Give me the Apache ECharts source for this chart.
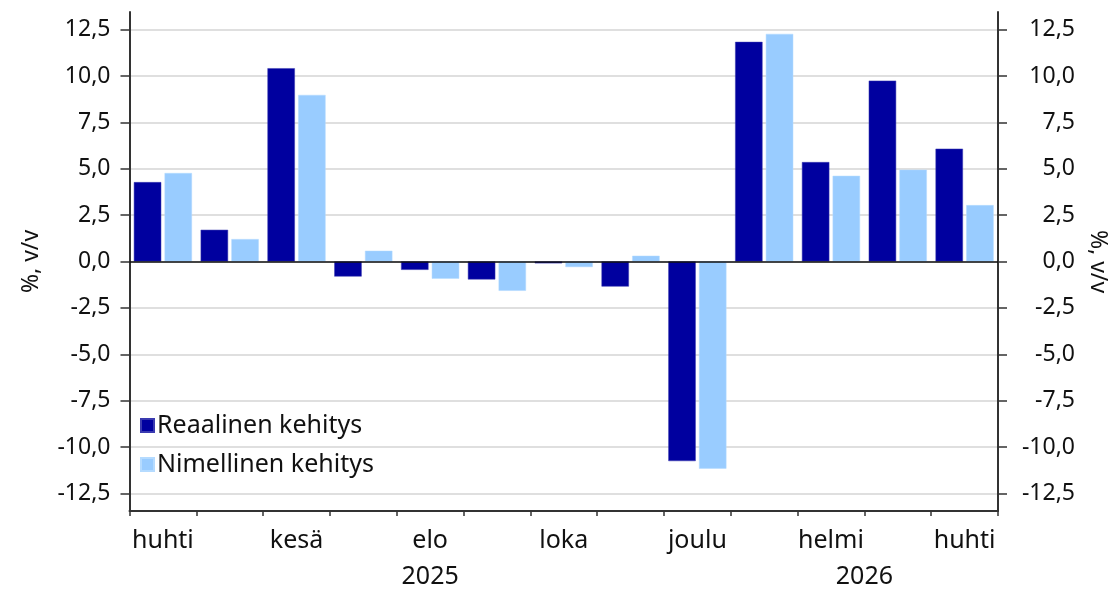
<!DOCTYPE html>
<html>
<head>
<meta charset="utf-8">
<script src="https://cdn.jsdelivr.net/npm/echarts@6/dist/echarts.min.js"></script>
<style>
  html, body { margin: 0; padding: 0; background: #fff; }
  #main { width: 1110px; height: 590px; }
</style>
</head>
<body>
<div id="main"></div>
<script>
// kuukaudet huhti 2025 - huhti 2026
const months = ["huhti", "touko", "kesä", "heinä", "elo", "syys", "loka", "marras", "joulu", "tammi", "helmi", "maalis", "huhti"];
const reaalinen = [4.28, 1.71, 10.42, -0.81, -0.45, -0.97, -0.1, -1.35, -10.76, 11.84, 5.36, 9.75, 6.08];
const nimellinen = [4.77, 1.21, 8.98, 0.58, -0.93, -1.58, -0.3, 0.31, -11.17, 12.27, 4.62, 4.95, 3.04];
const yTicks = [-12.5, -10, -7.5, -5, -2.5, 0, 2.5, 5, 7.5, 10, 12.5];
const years = [{ text: "2025", at: 4 }, { text: "2026", at: 10.5 }];

const FONT = "Noto Sans";
const fmt = (v) => v.toFixed(1).replace(".", ",");

function yAxisCfg(pos) {
  return {
    type: "value",
    position: pos,
    min: -13.45,
    max: 13.45,
    name: "%, v/v",
    nameLocation: "middle",
    nameGap: pos === "left" ? 87 : 87,
    nameRotate: pos === "left" ? 90 : -90,
    nameTextStyle: { fontFamily: FONT, fontSize: 23, color: "#111" },
    axisLine: { show: true, lineStyle: { color: "#333", width: 2 } },
    axisTick: { show: true, length: 9, customValues: yTicks, lineStyle: { color: "#333", width: 1.5 } },
    axisLabel: {
      customValues: yTicks,
      formatter: fmt,
      fontFamily: FONT,
      fontSize: 23,
      color: "#111",
      margin: pos === "left" ? 19 : 77,
      align: "right",
    },
    splitLine: { show: pos === "left", lineStyle: { color: "#d4d4d4", width: 1.5 } },
  };
}

var chart = echarts.init(document.getElementById("main"));
chart.setOption({
  animation: false,
  grid: { left: 129.5, right: 112, top: 12, bottom: 79, outerBoundsMode: "none", containLabel: false },
  legend: {
    orient: "vertical",
    left: 135,
    top: 408,
    itemWidth: 13,
    itemHeight: 13,
    itemGap: 14,
    icon: "rect",
    textStyle: { fontFamily: FONT, fontSize: 25, color: "#111", padding: [0, 0, 0, -2] },
    data: ["Reaalinen kehitys", "Nimellinen kehitys"],
  },
  xAxis: {
    type: "category",
    data: months,
    boundaryGap: true,
    axisLine: { onZero: false, lineStyle: { color: "#333", width: 2 } },
    axisTick: { show: true, interval: 0, length: 5, lineStyle: { color: "#333", width: 1.5 } },
    axisLabel: { interval: 1, fontFamily: FONT, fontSize: 25, color: "#111", margin: 17 },
    splitLine: { show: false },
  },
  yAxis: [yAxisCfg("left"), yAxisCfg("right")],
  series: [
    {
      name: "Reaalinen kehitys",
      type: "bar",
      data: reaalinen,
      barGap: "12%",
      barCategoryGap: "13%",
      itemStyle: { color: "#00009f", borderColor: "#3a3ab0", borderWidth: 0.5 },
      markLine: {
        silent: true,
        symbol: "none",
        label: { show: false },
        lineStyle: { color: "#111", width: 1.5, type: "solid" },
        data: [{ yAxis: 0 }],
      },
    },
    {
      name: "Nimellinen kehitys",
      type: "bar",
      data: nimellinen,
      itemStyle: { color: "#99ccff", borderColor: "#b5dbff", borderWidth: 0.5 },
    },
  ],
});

// vuosiluvut akselin alle
const step = chart.convertToPixel({ xAxisIndex: 0 }, 1) - chart.convertToPixel({ xAxisIndex: 0 }, 0);
const x0 = chart.convertToPixel({ xAxisIndex: 0 }, 0);
chart.setOption({
  graphic: years.map((y) => ({
    type: "text",
    x: x0 + y.at * step,
    y: 577,
    style: { text: y.text, fontFamily: FONT, fontSize: 25, fill: "#111", align: "center", verticalAlign: "middle" },
  })),
});
</script>
</body>
</html>
